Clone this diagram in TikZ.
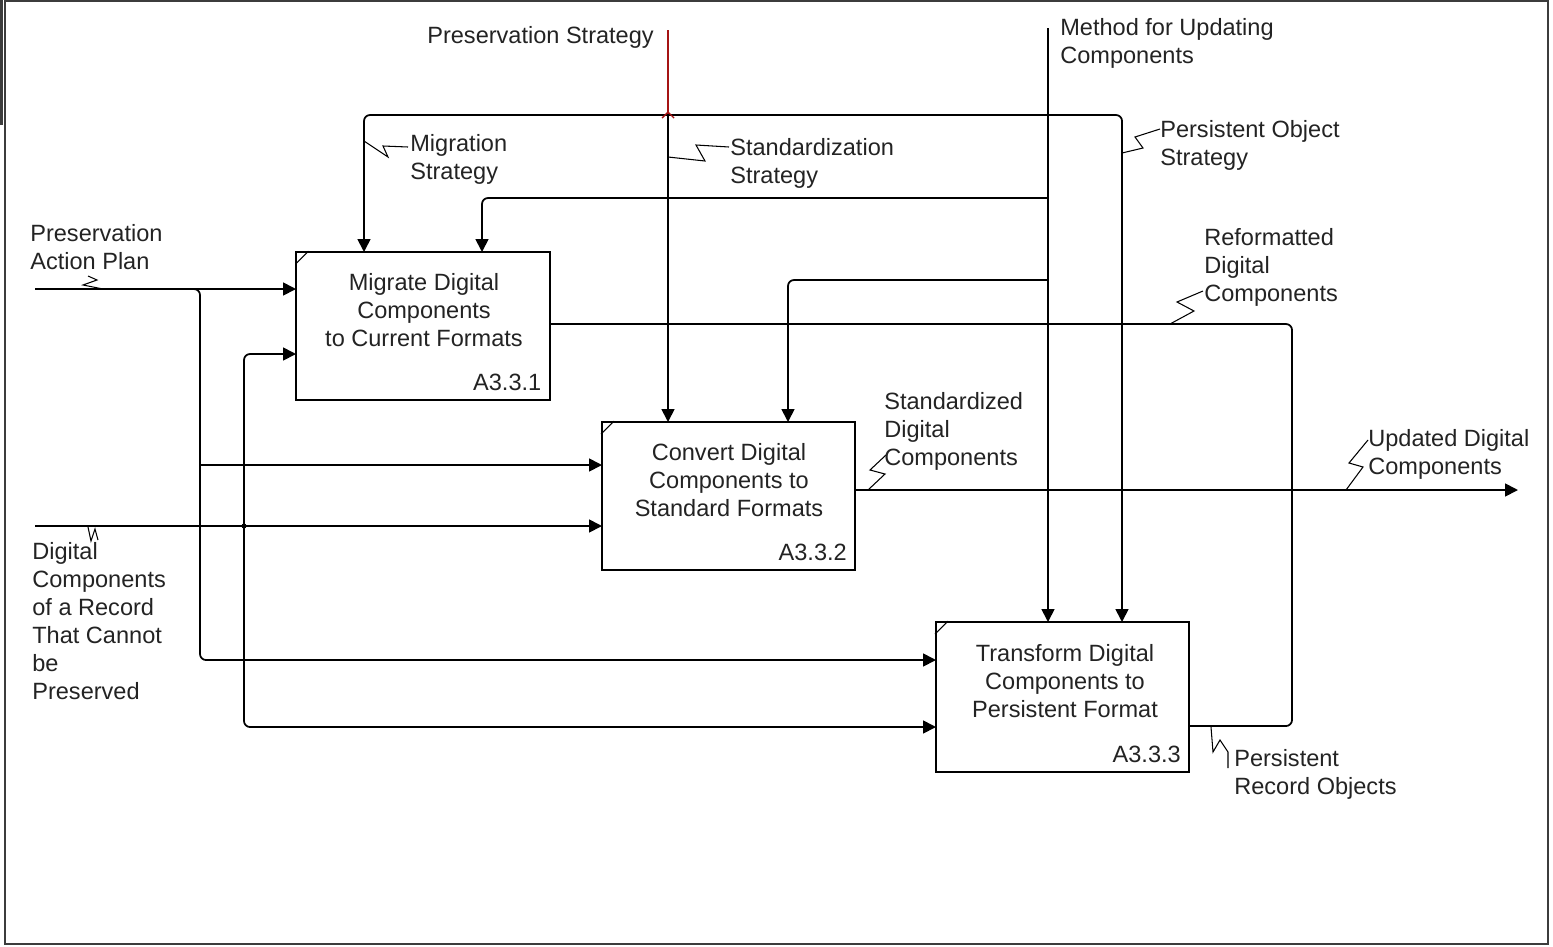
\documentclass[tikz,border=0pt]{standalone}
\usepackage{fontspec}
\setmainfont{Liberation Sans}
\usetikzlibrary{arrows.meta}
\definecolor{txt}{RGB}{35,35,35}
\definecolor{redl}{RGB}{165,20,20}
\definecolor{framec}{RGB}{60,60,60}
\begin{document}
\begin{tikzpicture}[x=0.02cm,y=-0.02cm,
  lbl/.style={font=\fontsize{13.4}{15.9}\selectfont, text=txt, inner sep=0pt, align=left, anchor=north west},
  boxtxt/.style={font=\fontsize{13.4}{15.9}\selectfont, text=txt, inner sep=0pt, align=center},
  idl/.style={font=\fontsize{13.4}{15.9}\selectfont, text=txt, inner sep=0pt, anchor=east},
  box/.style={draw, line width=1pt, minimum width=5.07cm, minimum height=2.96cm, inner sep=0pt},
  ln/.style={line width=1pt},
  arr/.style={ln, -{Triangle[length=0.26cm,width=0.26cm]}},
  rc/.style={rounded corners=0.12cm},
  sq/.style={line width=0.6pt}]
\useasboundingbox (0,0) rectangle (1553,947);
% frame
\fill[framec] (0,0) rectangle (3,125);
\draw[framec, line width=1.2pt] (5,1) rectangle (1548,944);

% boxes
\node[box] (b1) at (423,326) {};
\node[box] (b2) at (728.5,496) {};
\node[box, minimum height=3cm] (b3) at (1062.5,697) {};
\node[boxtxt] (t1) at (424,310) {Migrate Digital\\Components\\to Current Formats};
\node[boxtxt] (t2) at (729,480) {Convert Digital\\Components to\\Standard Formats};
\node[boxtxt] (t3) at (1065,681) {Transform Digital\\Components to\\Persistent Format};
\node[idl] (id1) at ([shift={(-9,-18)}]b1.south east) {A3.3.1};
\node[idl] (id2) at ([shift={(-9,-18)}]b2.south east) {A3.3.2};
\node[idl] (id3) at ([shift={(-9,-18)}]b3.south east) {A3.3.3};
\foreach \b in {b1,b2,b3}{
  \draw[sq] ([shift={(0,13)}]\b.north west) -- ([shift={(13,0)}]\b.north west);
}

% coordinates
\coordinate (pap) at (35,289);
\coordinate (b1i1) at (296,289);
\coordinate (pjs) at (193,289);
\coordinate (pj) at (200,289);
\coordinate (b2i1) at (602,465);
\coordinate (b3i1) at (936,660);
\coordinate (dc) at (35,526);
\coordinate (dj) at (244,526);
\coordinate (b2i2) at (602,526);
\coordinate (b1i2) at (296,354);
\coordinate (b3i2) at (936,727);
\coordinate (b1o) at (550,324);
\coordinate (b2o) at (855,490);
\coordinate (b3o) at (1189,726);
\coordinate (oj) at (1292,490);
\coordinate (uo) at (1518,490);
\coordinate (ps) at (668,30);
\coordinate (psj) at (668,115);
\coordinate (b1c1) at (364,252);
\coordinate (b2c1) at (668,422);
\coordinate (b3c2) at (1122,622);
\coordinate (mu) at (1048,28);
\coordinate (b3c1) at (1048,622);
\coordinate (mA) at (1048,198);
\coordinate (mB) at (1048,280);
\coordinate (b1c2) at (482,252);
\coordinate (b2c2) at (788,422);

% inputs
\draw[arr] (pap) -- (b1i1);
\draw[arr,rc] (pjs) -| (pj |- b3i1) -- (b3i1);
\draw[arr] (pj |- b2i1) -- (b2i1);
\draw[arr] (dc) -- (b2i2);
\draw[arr,rc] (dj) |- (b1i2);
\draw[arr,rc] (dj) |- (b3i2);
\fill (dj) circle (0.05cm);

% outputs
\draw[ln,rc] (b1o) -| (oj);
\draw[ln,rc] (b3o) -| (oj);
\draw[arr] (b2o) -- (uo);

% controls
\draw[ln, redl] (ps) -- (psj);
\draw[arr,rc] (psj) -| (b1c1);
\draw[arr,rc] (psj) -| (b3c2);
\draw[arr] (psj) -- (b2c1);
\draw[redl, line width=0.8pt] (662,118) -- (668,112) -- (674,118);
\draw[arr] (mu) -- (b3c1);
\draw[arr,rc] (mA) -| (b1c2);
\draw[arr,rc] (mB) -| (b2c2);

% squiggles
\draw[sq] (103,289) -- (83,285) -- (97,280) -- (88,276);
\draw[sq] (88,527) -- (91,541) -- (95,529) -- (98,540);
\draw[sq] (364,141) -- (388,157) -- (383,146) -- (408,147);
\draw[sq] (668,157) -- (705,161) -- (696,145) -- (729,147);
\draw[sq] (1122,153) -- (1143,148) -- (1135,137) -- (1160,129);
\draw[sq] (1170,324) -- (1194,311) -- (1177,302) -- (1203,291);
\draw[sq] (868,490) -- (885,474) -- (870,470) -- (886,455);
\draw[sq] (1346,490) -- (1363,467) -- (1349,463) -- (1368,440);
\draw[sq] (1211,727) -- (1213,752) -- (1220,740) -- (1228,752) -- (1228,768);

% labels
\node[lbl] (lps) at (427,26) {Preservation Strategy};
\node[lbl] (lmu) at (1060,18) {Method for Updating\\Components};
\node[lbl] (lms) at (410,134) {Migration\\Strategy};
\node[lbl] (lss) at (730,138) {Standardization\\Strategy};
\node[lbl] (lpo) at (1160,120) {Persistent Object\\Strategy};
\node[lbl] (lpap) at (30,224) {Preservation\\Action Plan};
\node[lbl] (lrd) at (1204,228) {Reformatted\\Digital\\Components};
\node[lbl] (lsd) at (884,392) {Standardized\\Digital\\Components};
\node[lbl] (lud) at (1368,429) {Updated Digital\\Components};
\node[lbl] (ldc) at (32,542) {Digital\\Components\\of a Record\\That Cannot\\be\\Preserved};
\node[lbl] (lpr) at (1234,749) {Persistent\\Record Objects};
\end{tikzpicture}
\end{document}
